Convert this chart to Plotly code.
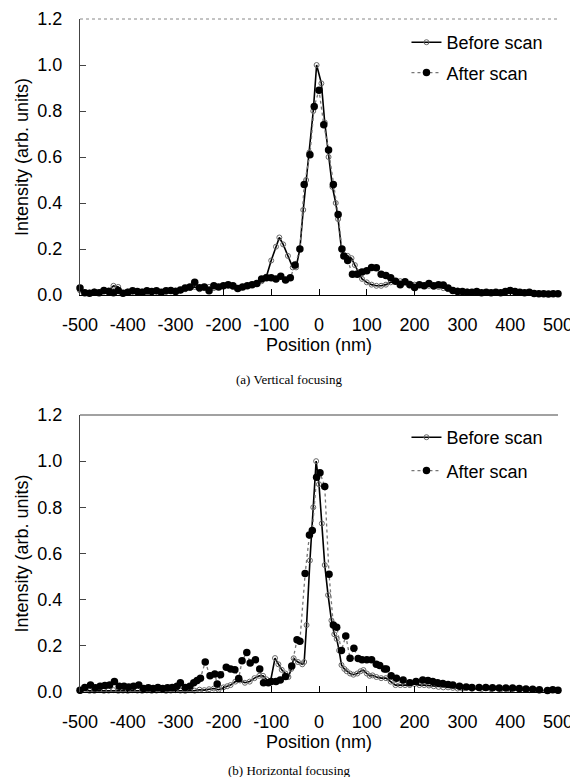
import plotly.graph_objects as go

# ---------------- data ----------------
x_ticks = [-500, -400, -300, -200, -100, 0, 100, 200, 300, 400, 500]
x_tick_labels = ["-500", "-400", "-300", "-200", "-100", "0", "100", "200", "300", "400", "500"]
y_ticks = [0.0, 0.2, 0.4, 0.6, 0.8, 1.0, 1.2]

# (a) Vertical focusing - before scan
a_before_x = [-500, -490, -480, -470, -460, -450, -440, -430, -420, -410, -400, -390, -380, -370, -360,
              -350, -340, -330, -320, -310, -300, -290, -280, -270, -260, -250, -240, -230, -220, -210,
              -200, -190, -180, -170, -160, -150, -140, -130, -120, -110, -100, -90, -83, -75, -65, -55,
              -48, -40, -33, -27, -20, -12, -5, 5, 12, 20, 28, 35, 40, 47, 52, 60, 68, 75, 82, 90, 100,
              110, 120, 130, 140, 150, 160, 170, 180, 190, 200, 210, 220, 230, 240, 250, 260, 270, 280,
              290, 300, 310, 320, 330, 340, 350, 360, 370, 380, 390, 400, 410, 420, 430, 440, 450, 460,
              470, 480, 490, 500]
a_before_y = [0.02, 0.01, 0.01, 0.015, 0.01, 0.015, 0.02, 0.04, 0.035, 0.008, 0.015, 0.015, 0.01, 0.015, 0.01,
              0.012, 0.015, 0.01, 0.015, 0.02, 0.02, 0.02, 0.025, 0.03, 0.035, 0.025, 0.03, 0.035, 0.03, 0.035,
              0.04, 0.04, 0.035, 0.03, 0.035, 0.04, 0.045, 0.05, 0.06, 0.08, 0.15, 0.21, 0.25, 0.22, 0.17, 0.12,
              0.12, 0.2, 0.37, 0.5, 0.62, 0.8, 1.0, 0.92, 0.75, 0.6, 0.47, 0.4, 0.33, 0.2, 0.17, 0.17, 0.16, 0.13,
              0.1, 0.07, 0.055, 0.045, 0.04, 0.04, 0.045, 0.055, 0.06, 0.06, 0.055, 0.05, 0.045, 0.045, 0.04,
              0.04, 0.035, 0.035, 0.03, 0.025, 0.02, 0.02, 0.015, 0.015, 0.012, 0.012, 0.01, 0.012, 0.01, 0.012,
              0.01, 0.012, 0.015, 0.012, 0.01, 0.01, 0.01, 0.008, 0.006, 0.005, 0.005, 0.005, 0.005]

# (a) Vertical focusing - after scan
a_after_x = [-500, -490, -480, -470, -460, -450, -440, -430, -420, -410, -400, -390, -380, -370, -360,
             -350, -340, -330, -320, -310, -300, -290, -280, -270, -260, -250, -240, -230, -220, -210,
             -200, -190, -180, -170, -160, -150, -140, -130, -120, -110, -100, -90, -80, -70, -60, -50,
             -40, -31, -19, -10, 0, 10, 20, 30, 40, 48, 52, 60, 70, 80, 90, 100, 110, 120, 130, 140, 150,
             160, 170, 180, 190, 200, 210, 220, 230, 240, 250, 260, 270, 280, 290, 300, 310, 320, 330, 340,
             350, 360, 370, 380, 390, 400, 410, 420, 430, 440, 450, 460, 470, 480, 490, 500]
a_after_y = [0.03, 0.01, 0.008, 0.012, 0.01, 0.02, 0.015, 0.01, 0.02, 0.008, 0.012, 0.018, 0.015, 0.012, 0.018,
             0.015, 0.018, 0.012, 0.018, 0.02, 0.015, 0.022, 0.03, 0.035, 0.055, 0.032, 0.035, 0.018, 0.04, 0.035,
             0.04, 0.045, 0.04, 0.028, 0.035, 0.04, 0.045, 0.05, 0.07, 0.075, 0.075, 0.07, 0.082, 0.065, 0.075, 0.13,
             0.2, 0.48, 0.61, 0.82, 0.89, 0.74, 0.63, 0.48, 0.35, 0.2, 0.17, 0.15, 0.09, 0.09, 0.1, 0.105, 0.12,
             0.118, 0.09, 0.085, 0.075, 0.06, 0.045, 0.058, 0.045, 0.033, 0.045, 0.04, 0.05, 0.04, 0.045, 0.043,
             0.03, 0.02, 0.015, 0.015, 0.012, 0.012, 0.015, 0.01, 0.012, 0.01, 0.012, 0.01, 0.015, 0.02, 0.015,
             0.012, 0.01, 0.012, 0.006, 0.005, 0.005, 0.004, 0.005, 0.005]

# (b) Horizontal focusing - before scan
b_before_x = [-500, -490, -480, -470, -460, -450, -440, -430, -420, -410, -400, -390, -380, -370, -360,
              -350, -340, -330, -320, -310, -300, -290, -280, -270, -260, -250, -240, -230, -220, -210,
              -200, -192, -185, -175, -165, -155, -145, -135, -125, -117, -110, -102, -92, -85, -78, -70,
              -64, -58, -53, -44, -35, -31, -26, -19, -12, -6, 0, 6, 12, 19, 26, 32, 37, 42, 47, 53, 58, 65,
              72, 80, 87, 93, 100, 106, 112, 120, 130, 140, 150, 160, 170, 180, 190, 200, 210, 220, 230,
              240, 250, 260, 270, 280, 290, 300, 320, 340, 360, 380, 400, 420, 440, 460, 480, 500]
b_before_y = [0.005, 0.01, 0.005, 0.005, 0.008, 0.005, 0.006, 0.008, 0.005, 0.006, 0.005, 0.008, 0.006, 0.005, 0.007,
              0.005, 0.006, 0.008, 0.005, 0.006, 0.008, 0.006, 0.005, 0.008, 0.006, 0.01, 0.008, 0.012, 0.015, 0.01,
              0.02, 0.025, 0.03, 0.045, 0.05, 0.04, 0.045, 0.06, 0.07, 0.07, 0.055, 0.04, 0.147, 0.12, 0.096, 0.08,
              0.065, 0.1, 0.146, 0.13, 0.12, 0.13, 0.29, 0.57, 0.8, 1.0, 0.9, 0.73, 0.55, 0.42, 0.31, 0.25, 0.23,
              0.18, 0.117, 0.1, 0.09, 0.08, 0.075, 0.08, 0.09, 0.095, 0.08, 0.07, 0.072, 0.065, 0.06, 0.06, 0.045,
              0.03, 0.03, 0.03, 0.03, 0.035, 0.03, 0.03, 0.028, 0.025, 0.022, 0.02, 0.02, 0.018, 0.015, 0.015,
              0.014, 0.013, 0.012, 0.011, 0.01, 0.009, 0.008, 0.007, 0.006, 0.005]

# (b) Horizontal focusing - after scan
b_after_x = [-500, -490, -478, -468, -458, -448, -438, -428, -418, -408, -398, -388, -377, -367, -357,
             -347, -337, -327, -317, -307, -297, -290, -280, -270, -262, -255, -248, -238, -228, -218,
             -213, -206, -194, -185, -176, -168, -161, -151, -144, -133, -124, -116, -106, -100, -90, -81,
             -70, -57, -46, -40, -29, -20, -14, -5, 2, 12, 21, 30, 37, 47, 56, 65, 73, 82, 90, 100, 110, 120,
             127, 137, 141, 151, 162, 176, 190, 203, 217, 228, 238, 248, 259, 270, 280, 294, 308, 320, 335,
             349, 363, 377, 391, 405, 419, 433, 447, 461, 478, 489, 500]
b_after_y = [0.008, 0.02, 0.03, 0.018, 0.025, 0.028, 0.03, 0.045, 0.025, 0.025, 0.022, 0.025, 0.03, 0.015, 0.018,
             0.015, 0.02, 0.015, 0.018, 0.02, 0.025, 0.04, 0.02, 0.025, 0.04, 0.05, 0.06, 0.13, 0.07, 0.078,
             0.035, 0.075, 0.107, 0.1, 0.096, 0.058, 0.135, 0.171, 0.126, 0.14, 0.1, 0.04, 0.04, 0.045, 0.045, 0.052,
             0.067, 0.113, 0.226, 0.22, 0.513, 0.68, 0.7, 0.93, 0.95, 0.89, 0.51, 0.29, 0.28, 0.18, 0.243, 0.146,
             0.19, 0.145, 0.14, 0.14, 0.14, 0.12, 0.115, 0.1, 0.1, 0.07, 0.06, 0.052, 0.04, 0.045, 0.052, 0.05,
             0.045, 0.04, 0.037, 0.033, 0.03, 0.025, 0.022, 0.02, 0.02, 0.02, 0.018, 0.017, 0.017, 0.017, 0.015,
             0.013, 0.012, 0.01, 0.006, 0.01, 0.008]

series_names = ["Before scan", "After scan"]
captions = ["(a) Vertical focusing", "(b) Horizontal focusing"]

# ---------------- styling ----------------
FONT = "Liberation Sans, Arial, sans-serif"
before_style = dict(mode="lines+markers",
                    line=dict(color="black", width=1.6),
                    marker=dict(symbol="circle-open", size=5, color="#666666", line=dict(width=1)))
after_style = dict(mode="lines+markers",
                   line=dict(color="#777777", width=1.3, dash="dot"),
                   marker=dict(symbol="circle", size=7.5, color="black"))

fig = go.Figure()
panels = [(a_before_x, a_before_y, a_after_x, a_after_y, "x", "y", "legend"),
          (b_before_x, b_before_y, b_after_x, b_after_y, "x2", "y2", "legend2")]
for bx, by, ax_, ay, xa, ya, lg in panels:
    fig.add_trace(go.Scatter(x=bx, y=by, name=series_names[0], xaxis=xa, yaxis=ya, legend=lg,
                             legendgroup=lg + "b", cliponaxis=False, **before_style))
    fig.add_trace(go.Scatter(x=ax_, y=ay, name=series_names[1], xaxis=xa, yaxis=ya, legend=lg,
                             legendgroup=lg + "a", cliponaxis=False, **after_style))

W, H = 578, 777
OFF = 8  # page body offset
left_px, right_px = 80 - OFF, 558 - OFF


def py(p):
    return 1 - (p - OFF) / H


top_dom = [py(295), py(19)]
bot_dom = [py(692), py(415)]

xcommon = dict(range=[-500, 500], tickmode="array", tickvals=x_ticks, ticktext=x_tick_labels,
               ticks="inside", ticklen=6, tickcolor="black", showline=True, linecolor="black",
               linewidth=1, showgrid=False, zeroline=False, ticklabelstandoff=13,
               tickfont=dict(family=FONT, size=18, color="black"),
               title=dict(text="Position (nm)", font=dict(family=FONT, size=18, color="black"), standoff=0))
ycommon = dict(range=[0, 1.2], tickmode="array", tickvals=y_ticks, tickformat=".1f",
               ticks="inside", ticklen=6, tickcolor="#444444", showline=True, linecolor="#444444",
               linewidth=1, showgrid=False, zeroline=False, ticklabelstandoff=13,
               tickfont=dict(family=FONT, size=18, color="black"),
               title=dict(text="Intensity (arb. units)", font=dict(family=FONT, size=18, color="black"),
                          standoff=4))

fig.update_layout(
    width=W, height=H,
    margin=dict(l=left_px, r=W - right_px, t=0, b=0, autoexpand=False),
    paper_bgcolor="white", plot_bgcolor="white",
    xaxis=dict(domain=[0, 1], anchor="y", **xcommon),
    yaxis=dict(domain=top_dom, anchor="x", **ycommon),
    xaxis2=dict(domain=[0, 1], anchor="y2", **xcommon),
    yaxis2=dict(domain=bot_dom, anchor="x2", **ycommon),
    legend=dict(x=0.683, y=py(24), xanchor="left", yanchor="top", xref="paper", yref="paper",
                font=dict(family=FONT, size=18, color="black"), tracegroupgap=4,
                bgcolor="rgba(0,0,0,0)", itemwidth=30),
    legend2=dict(x=0.683, y=py(419), xanchor="left", yanchor="top", xref="paper", yref="paper",
                 font=dict(family=FONT, size=18, color="black"), tracegroupgap=7,
                 bgcolor="rgba(0,0,0,0)", itemwidth=30),
    showlegend=True,
)

# top frame lines
fig.add_shape(type="line", xref="x domain", yref="y domain", x0=0, x1=1, y0=1, y1=1,
              line=dict(color="#888888", width=1, dash="dot"))
fig.add_shape(type="line", xref="x2 domain", yref="y2 domain", x0=0, x1=1, y0=1, y1=1,
              line=dict(color="#444444", width=1.2))

# captions
for cap, ypx in zip(captions, [379, 770]):
    fig.add_annotation(text=cap, xref="paper", yref="paper", x=(W / 2 - OFF - left_px) / (right_px - left_px),
                       y=py(ypx), xanchor="center", yanchor="middle", showarrow=False,
                       font=dict(family="Liberation Serif, Times New Roman, serif", size=13, color="black"))

fig.write_html("out.html")
